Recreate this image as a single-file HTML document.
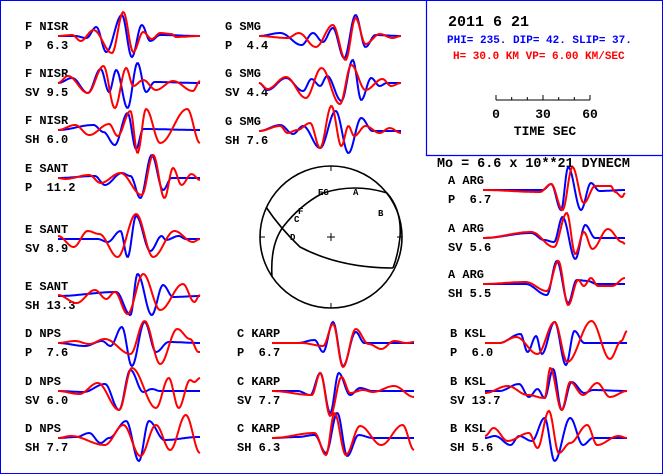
<!DOCTYPE html>
<html><head><meta charset="utf-8">
<style>
html,body{margin:0;padding:0;background:#fff;}
svg{display:block;}
text{font-family:"Liberation Mono",monospace;font-weight:bold;}
</style></head>
<body>
<svg id="chart" width="663" height="474" viewBox="0 0 663 474" xmlns="http://www.w3.org/2000/svg">
<rect x="0.5" y="0.5" width="662" height="473" fill="#fff" stroke="#00f" stroke-width="1"/>
<g>
<path d="M426.5 0 V155.5 H663" fill="none" stroke="#00f" stroke-width="1.2"/>
<text x="448" y="26" font-size="15" fill="#000">2011  6 21</text>
<text x="447" y="43" font-size="11" fill="#00f">PHI= 235. DIP= 42. SLIP=  37.</text>
<text x="453" y="59" font-size="11" fill="#f00">H= 30.0 KM  VP= 6.00 KM/SEC</text>
<g stroke="#000" stroke-width="1">
<line x1="496" y1="100" x2="590" y2="100"/>
<line x1="496" y1="95" x2="496" y2="100"/><line x1="511.7" y1="97" x2="511.7" y2="100"/><line x1="527.3" y1="97" x2="527.3" y2="100"/>
<line x1="543" y1="95" x2="543" y2="100"/><line x1="558.7" y1="97" x2="558.7" y2="100"/><line x1="574.3" y1="97" x2="574.3" y2="100"/><line x1="590" y1="95" x2="590" y2="100"/>
</g>
<text x="496" y="118" font-size="13" fill="#000" text-anchor="middle">0</text>
<text x="543" y="118" font-size="13" fill="#000" text-anchor="middle">30</text>
<text x="590" y="118" font-size="13" fill="#000" text-anchor="middle">60</text>
<text x="545" y="135" font-size="13" fill="#000" text-anchor="middle">TIME  SEC</text>
</g>
<text x="437" y="167" font-size="13.4" fill="#000">Mo =  6.6 x 10**21 DYNECM</text>
<g fill="none" stroke="#000" stroke-width="1.6">
<circle cx="331" cy="237" r="71"/>
<path d="M266 207 Q280 228 300 247 Q340 268 393 268"/>
<path d="M272 277 Q270 245 283 227 Q300 205 323 193 Q355 183 387 193 Q402 210 400 237 Q398 255 393 268"/>
<path d="M331 166 v5 M331 303 v5 M260 237 h5 M397 237 h5 M327 237 h8 M331 233 v8" stroke-width="1"/>
</g>
<g font-size="9" fill="#000">
<text x="318" y="195">EG</text>
<text x="353" y="195">A</text>
<text x="378" y="216">B</text>
<text x="298" y="214">F</text>
<text x="294" y="222">C</text>
<text x="290" y="240">D</text>
</g>
<g id="traces"></g>
</svg>
<script>
// station labels per panel
const stationNames = ["F NISR","F NISR","F NISR","E SANT","E SANT","E SANT","D NPS","D NPS","D NPS",
 "G SMG","G SMG","G SMG","C KARP","C KARP","C KARP","A ARG","A ARG","A ARG","B KSL","B KSL","B KSL"];
const phaseLabels = ["P  6.3","SV 9.5","SH 6.0","P  11.2","SV 8.9","SH 13.3","P  7.6","SV 6.0","SH 7.7",
 "P  4.4","SV 4.4","SH 7.6","P  6.7","SV 7.7","SH 6.3","P  6.7","SV 5.6","SH 5.5","P  6.0","SV 13.7","SH 5.6"];
// observed (blue) waveform extrema: [time fraction, amplitude]
const observed = [
 [[0,0],[0.12,0],[0.2,-2],[0.27,9],[0.34,-16],[0.45,21],[0.52,-21],[0.59,11],[0.65,-5],[0.72,1],[1,0]],
 [[0,0],[0.1,5],[0.21,-10],[0.3,14],[0.36,-9],[0.41,13],[0.49,-25],[0.56,20],[0.62,-9],[0.68,1],[1,0]],
 [[0,0],[0.25,5],[0.32,-2],[0.4,-15],[0.49,17],[0.55,-19],[0.6,1],[1,0]],
 [[0,0],[0.26,2],[0.33,-7],[0.45,5],[0.51,2],[0.58,-20],[0.66,23],[0.74,-12],[0.8,0],[1,0]],
 [[0,0],[0.28,0],[0.35,-3],[0.44,8],[0.49,-18],[0.55,23],[0.65,-12],[0.73,3],[0.76,-1],[0.85,3],[0.9,0],[1,0]],
 [[0,0],[0.41,4],[0.51,-19],[0.56,22],[0.66,-19],[0.74,11],[0.81,-1],[1,0]],
 [[0,0],[0.19,-3],[0.31,2],[0.37,-3],[0.45,16],[0.52,-23],[0.61,21],[0.69,-9],[0.78,1],[1,0]],
 [[0,0],[0.18,-1],[0.33,7],[0.43,-19],[0.51,21],[0.6,-1],[0.66,2],[0.72,0],[1,0]],
 [[0,0],[0.13,1],[0.22,5],[0.3,-5],[0.36,0],[0.48,17],[0.57,-23],[0.64,17],[0.75,-2],[0.99,1],[1,1]],
 [[0,0],[0.15,3],[0.3,-9],[0.38,3],[0.45,-6],[0.52,8],[0.6,-22],[0.68,21],[0.75,-11],[0.82,1],[1,0]],
 [[0,0],[0.06,-7],[0.19,5],[0.31,-8],[0.37,4],[0.43,-3],[0.48,7],[0.58,-18],[0.66,23],[0.72,-17],[0.79,5],[0.85,-3],[0.9,0],[1,0]],
 [[0,0],[0.15,6],[0.24,-3],[0.31,5],[0.43,-17],[0.54,20],[0.63,-22],[0.72,13],[0.8,0],[1,0]],
 [[0,0],[0.18,0],[0.3,3],[0.36,-9],[0.43,21],[0.5,-23],[0.59,11],[0.65,0],[1,0]],
 [[0,0],[0.18,0],[0.27,-4],[0.34,18],[0.41,-22],[0.47,18],[0.55,-4],[0.62,3],[0.71,0],[1,0]],
 [[0,0],[0.18,1],[0.3,3],[0.38,-15],[0.46,25],[0.53,-18],[0.61,3],[0.71,0],[1,0]],
 [[0,0],[0.42,0],[0.48,6],[0.55,-20],[0.6,23],[0.69,-20],[0.76,7],[0.82,-1],[1,0]],
 [[0,0],[0.34,5],[0.43,-2],[0.5,-4],[0.56,21],[0.65,-21],[0.72,13],[0.79,0],[1,0]],
 [[0,0],[0.3,0],[0.45,-11],[0.52,23],[0.6,-19],[0.66,4],[0.74,3],[0.8,0],[1,0]],
 [[0,0],[0.1,0],[0.25,9],[0.3,-9],[0.36,7],[0.4,-11],[0.49,21],[0.57,-22],[0.63,12],[0.7,0],[1,0]],
 [[0,0],[0.1,0],[0.24,7],[0.31,-6],[0.37,2],[0.42,-7],[0.48,22],[0.54,-19],[0.61,9],[0.7,-2],[0.76,1],[1,0]],
 [[0,0],[0.07,2],[0.18,-7],[0.24,2],[0.33,-3],[0.42,20],[0.49,-23],[0.6,20],[0.69,-7],[0.76,0],[1,0]]
];
// synthetic (red) waveform extrema: [time fraction, amplitude]
const synthetic = [
 [[0,0],[0.1,1],[0.16,-5],[0.25,6],[0.38,-17],[0.46,24],[0.53,-16],[0.6,4],[0.66,-3],[0.72,3],[0.8,2],[0.83,-1],[1,0]],
 [[0,0],[0.07,7],[0.21,-10],[0.32,17],[0.4,-25],[0.48,15],[0.53,-3],[0.6,3],[0.69,-7],[0.81,2],[0.95,-8],[1,2]],
 [[0,0],[0.12,5],[0.22,-5],[0.36,6],[0.42,-6],[0.51,19],[0.56,-23],[0.62,21],[0.72,-13],[0.91,21],[1,-13]],
 [[0,0],[0.05,-1],[0.22,3],[0.3,-5],[0.44,5],[0.59,-17],[0.67,23],[0.75,-20],[0.81,10],[0.87,-7],[0.94,4],[1,-2]],
 [[0,3],[0.11,-8],[0.21,8],[0.29,5],[0.42,-18],[0.55,25],[0.67,-18],[0.82,8],[0.95,-3],[1,0]],
 [[0,1],[0.13,-7],[0.26,6],[0.34,-3],[0.4,4],[0.49,-18],[0.6,22],[0.72,-14],[0.88,12],[0.96,-6],[1,1]],
 [[0,0],[0.12,2],[0.22,-1],[0.33,4],[0.51,-11],[0.61,22],[0.72,-21],[0.84,14],[0.93,4],[0.99,-9],[1,-9]],
 [[0,0],[0.15,-3],[0.28,8],[0.43,-19],[0.52,23],[0.69,-17],[0.78,13],[0.85,-17],[0.93,11],[0.96,9],[1,13]],
 [[0,0],[0.09,2],[0.33,-7],[0.46,13],[0.58,-18],[0.69,13],[0.79,-12],[0.9,23],[1,-15]],
 [[0,0],[0.2,-2],[0.28,3],[0.4,-11],[0.52,11],[0.61,-24],[0.68,18],[0.75,-8],[0.85,2],[0.94,-2],[1,0]],
 [[0,0],[0.06,-6],[0.19,6],[0.33,-15],[0.44,15],[0.57,-21],[0.65,18],[0.75,-7],[0.87,4],[0.93,-3],[1,0]],
 [[0,0],[0.15,5],[0.2,-2],[0.27,1],[0.36,8],[0.43,-17],[0.51,25],[0.58,-15],[0.63,5],[0.67,-5],[0.75,5],[0.85,-2],[0.92,3],[1,-2]],
 [[0,0],[0.21,0],[0.36,-3],[0.43,19],[0.5,-24],[0.59,14],[0.68,-1],[0.77,-6],[0.86,2],[0.95,0],[1,1]],
 [[0,0],[0.28,-4],[0.34,18],[0.41,-25],[0.49,14],[0.55,-2],[0.64,1],[0.71,-1],[0.86,5],[1,-6]],
 [[0,0],[0.3,5],[0.38,-17],[0.44,25],[0.52,-17],[0.62,12],[0.77,-7],[0.92,13],[1,-12]],
 [[0,0],[0.4,-2],[0.48,6],[0.56,-20],[0.63,23],[0.71,-13],[0.79,4],[0.9,4],[0.93,-2],[0.98,-7],[1,-3]],
 [[0,0],[0.34,6],[0.5,-9],[0.59,25],[0.65,-16],[0.71,6],[0.77,-11],[0.88,9],[0.98,-4],[1,-6]],
 [[0,0],[0.3,2],[0.45,-7],[0.53,23],[0.6,-21],[0.67,4],[0.71,-2],[0.76,6],[0.81,-2],[0.91,-2],[1,6]],
 [[0,0],[0.1,0],[0.22,6],[0.37,-11],[0.49,21],[0.58,-19],[0.75,22],[0.88,-16],[0.96,2],[1,12]],
 [[0,-2],[0.16,5],[0.3,-4],[0.42,-7],[0.46,23],[0.54,-19],[0.6,9],[0.69,-4],[0.79,8],[0.88,-6],[1,0]],
 [[0,2],[0.06,10],[0.16,-3],[0.31,5],[0.37,-10],[0.45,27],[0.52,-15],[0.6,-5],[0.72,13],[0.79,-7],[0.94,2],[1,0]]
];
// panel layout
const panelX = [58,58,58,58,58,58,58,58,58,259,259,259,272,272,272,483,483,483,485,485,485];
const panelBase = [36,83,130,178,239,296,343,391,438,36,83,131,343,391,438,190,238,284,343,391,438];
const labelX = [25,25,25,25,25,25,25,25,25,225,225,225,237,237,237,448,448,448,450,450,450];
const traceW = 142;
const NS = "http://www.w3.org/2000/svg";
const g = document.getElementById("traces");
function ampAt(pk, t){
  for(let i=0;i<pk.length-1;i++){
    const a=pk[i], b=pk[i+1];
    if(t>=a[0] && t<=b[0]){
      const u = b[0]===a[0]?0:(t-a[0])/(b[0]-a[0]);
      return a[1]+(b[1]-a[1])*(1-Math.cos(Math.PI*u))/2;
    }
  }
  return pk[pk.length-1][1];
}
function pathFor(pk, x0, base){
  let d="";
  for(let px=0; px<=traceW; px+=1){
    const y = base - ampAt(pk, px/traceW);
    d += (px===0?"M":"L")+(x0+px)+" "+y.toFixed(1)+" ";
  }
  return d;
}
for(let i=0;i<stationNames.length;i++){
  const grp = document.createElementNS(NS,"g");
  
  
  const t1 = document.createElementNS(NS,"text");
  t1.setAttribute("x", labelX[i]); t1.setAttribute("y", panelBase[i]-6);
  t1.setAttribute("font-size","12"); t1.textContent = stationNames[i];
  
  
  grp.appendChild(t1);
  const t2 = document.createElementNS(NS,"text");
  t2.setAttribute("x", labelX[i]); t2.setAttribute("y", panelBase[i]+13);
  t2.setAttribute("font-size","12"); t2.setAttribute("xml:space","preserve");
  t2.style.whiteSpace="pre"; t2.textContent = phaseLabels[i];
  
  
  grp.appendChild(t2);
  const pb = document.createElementNS(NS,"path");
  pb.setAttribute("d", pathFor(observed[i], panelX[i], panelBase[i]));
  pb.setAttribute("fill","none"); pb.setAttribute("stroke","#00f"); pb.setAttribute("stroke-width","2");
  
  
  grp.appendChild(pb);
  const pr = document.createElementNS(NS,"path");
  pr.setAttribute("d", pathFor(synthetic[i], panelX[i], panelBase[i]));
  pr.setAttribute("fill","none"); pr.setAttribute("stroke","#f00"); pr.setAttribute("stroke-width","2");
  
  
  grp.appendChild(pr);
  g.appendChild(grp);
}
</script>
</body></html>
